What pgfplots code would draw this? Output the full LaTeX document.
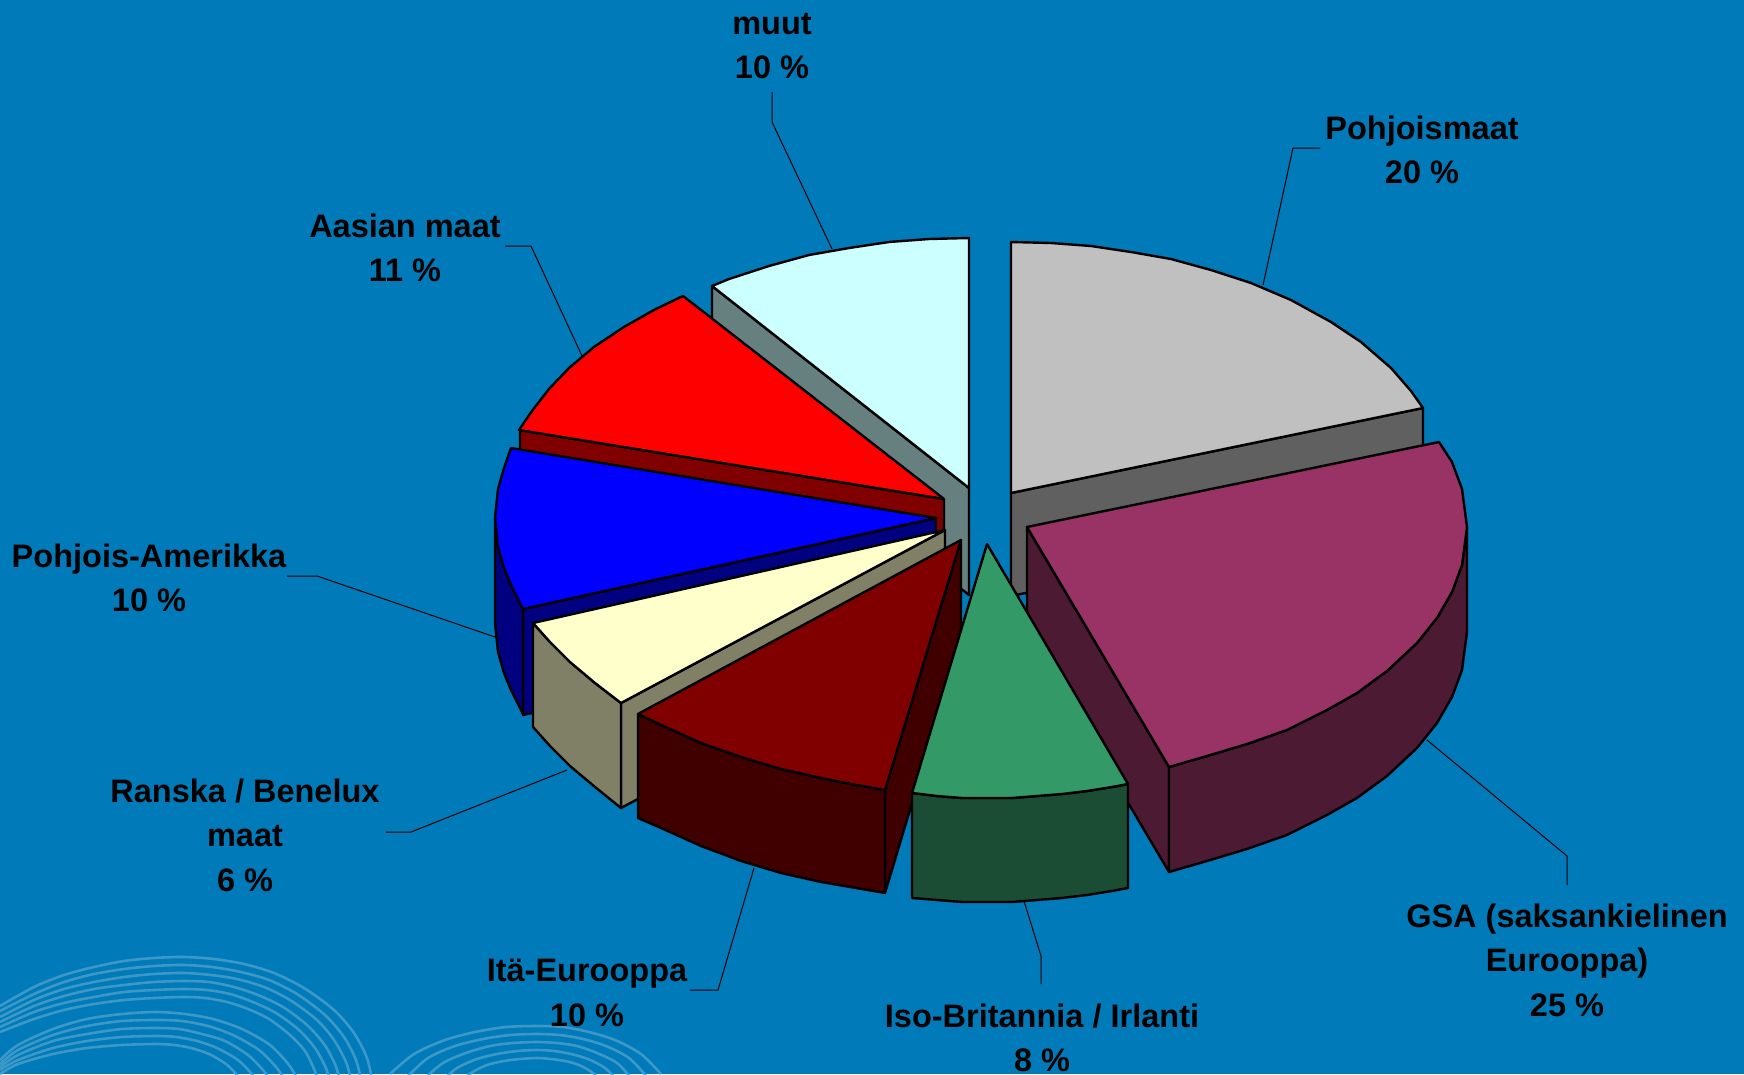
\documentclass[border=0pt]{standalone}
\usepackage{pgfplots}
\pgfplotsset{compat=1.18}
\usepackage{fontspec}
\setmainfont{Liberation Sans}
\definecolor{bgblue}{HTML}{007AB8}
\definecolor{swirl}{HTML}{4AA0CB}
\definecolor{gtop}{HTML}{C0C0C0}\definecolor{gside}{HTML}{606060}
\definecolor{mtop}{HTML}{993366}\definecolor{mside}{HTML}{4D1A33}
\definecolor{ctop}{HTML}{CCFFFF}\definecolor{cside}{HTML}{668080}
\definecolor{rtop}{HTML}{FF0000}\definecolor{rside}{HTML}{800000}
\definecolor{btop}{HTML}{0000FF}\definecolor{bside}{HTML}{000080}
\definecolor{ytop}{HTML}{FFFFCC}\definecolor{yside}{HTML}{808066}
\definecolor{dtop}{HTML}{800000}\definecolor{dside}{HTML}{400000}
\definecolor{etop}{HTML}{339966}\definecolor{eside}{HTML}{1A4D33}
\pgfplotsset{
  slice/.style={draw=black,line width=2.4pt,line join=round,mark=none,fill=#1},
  lead/.style={draw=black,line width=1pt,mark=none},
  sw/.style={draw=swirl,line width=2.6pt,mark=none,smooth,opacity=0.8},
}
\tikzset{lab/.style={font=\fontsize{32.5}{44.5}\selectfont\bfseries,align=center,inner sep=0pt,text=black}}
\begin{document}
\begin{tikzpicture}
\begin{axis}[
  scale only axis,width=1744pt,height=1074pt,
  xmin=0,xmax=1744,ymin=0,ymax=1074,y dir=reverse,
  hide axis,clip=true]
% background
\addplot[fill=bgblue,draw=none,mark=none] coordinates {(0,0)(1744,0)(1744,1074)(0,1074)} -- cycle;
% swirls
\addplot[sw] coordinates {(0,1006)(34,987)(64,975)(94,967)(124,961)(154,958)(184,957)(214,959)(244,964)(274,973)(304,988)(334,1010)(354,1033)(367,1058)(372,1080)};
\addplot[sw] coordinates {(0,1011)(34,994)(64,982)(94,974)(124,969)(154,966)(184,965)(212,967)(241,972)(269,980)(297,994)(325,1015)(344,1037)(356,1060)(361,1080)};
\addplot[sw] coordinates {(0,1017)(34,1000)(64,989)(94,982)(124,977)(154,974)(184,973)(211,975)(237,979)(264,987)(290,1000)(317,1020)(334,1040)(346,1062)(351,1080)};
\addplot[sw] coordinates {(0,1022)(34,1006)(64,996)(94,989)(124,985)(154,982)(184,981)(209,982)(234,987)(258,995)(283,1007)(307,1025)(324,1044)(335,1064)(340,1080)};
\addplot[sw] coordinates {(0,1027)(34,1012)(64,1003)(94,997)(124,992)(154,990)(184,989)(207,990)(230,994)(253,1002)(276,1013)(299,1030)(315,1048)(325,1066)(330,1080)};
\addplot[sw] coordinates {(0,1032)(34,1019)(64,1010)(94,1004)(124,1000)(154,998)(184,997)(205,998)(227,1002)(248,1009)(269,1019)(290,1035)(305,1051)(314,1069)(318,1080)};
\addplot[sw] coordinates {(0,1060)(18,1045)(53,1029)(87,1019)(122,1014)(156,1012)(185,1014)(213,1019)(242,1029)(270,1045)(289,1065)(298,1080)};
\addplot[sw] coordinates {(0,1064)(18,1050)(53,1035)(87,1026)(122,1021)(156,1020)(182,1021)(208,1026)(233,1035)(259,1050)(276,1067)(285,1080)};
\addplot[sw] coordinates {(0,1067)(18,1055)(53,1041)(87,1034)(122,1029)(156,1028)(179,1029)(202,1034)(225,1041)(248,1055)(263,1070)(270,1080)};
\addplot[sw] coordinates {(0,1070)(18,1060)(53,1048)(87,1041)(122,1037)(156,1036)(176,1037)(197,1041)(217,1048)(238,1060)(251,1073)(256,1080)};
\addplot[sw] coordinates {(0,1074)(18,1064)(53,1054)(87,1048)(122,1045)(156,1044)(174,1045)(191,1048)(209,1054)(226,1064)(238,1076)(241,1080)};
\addplot[sw] coordinates {(390,1074)(414,1054)(445,1040)(475,1032)(506,1027)(537,1026)(563,1027)(589,1032)(615,1040)(641,1054)(661,1074)};
\addplot[sw] coordinates {(407,1077)(428,1058)(455,1046)(483,1039)(510,1035)(537,1034)(560,1035)(583,1039)(606,1046)(629,1058)(647,1077)};
\addplot[sw] coordinates {(424,1079)(443,1063)(466,1053)(490,1046)(513,1043)(537,1042)(557,1043)(577,1046)(597,1053)(617,1063)(632,1079)};
\addplot[sw] coordinates {(442,1081)(457,1068)(477,1059)(497,1054)(517,1051)(537,1050)(554,1051)(571,1054)(588,1059)(605,1068)(618,1081)};
\addplot[sw] coordinates {(458,1084)(471,1073)(487,1065)(504,1061)(520,1059)(537,1058)(551,1059)(565,1061)(579,1065)(593,1073)(604,1084)};
% leader lines
\addplot[lead] coordinates {(772,92)(772,122)(832,249)};
\addplot[lead] coordinates {(1320,148)(1293,148)(1263,285)};
\addplot[lead] coordinates {(505,246)(531,246)(583,358)};
\addplot[lead] coordinates {(287,576)(317,576)(495,637)};
\addplot[lead] coordinates {(386,832)(411,832)(567,770)};
\addplot[lead] coordinates {(690,990)(718,990)(754,868)};
\addplot[lead] coordinates {(1024,901)(1041,956)(1041,984)};
\addplot[lead] coordinates {(1427,740)(1567,856)(1567,885)};
% muut
\addplot[slice=cside] coordinates {(712,286)(969,488)(969,595)(712,391)} -- cycle;
\addplot[slice=ctop] coordinates {(969,238)(929,239)(889,242)(849,248)(809,255)(769,266)(729,279)(712,286)(969,488)} -- cycle;
% Pohjoismaat
\addplot[slice=gside] coordinates {(1011,493)(1423,408)(1423,512)(1011,596)} -- cycle;
\addplot[slice=gtop] coordinates {(1011,242)(1051,243)(1091,246)(1131,252)(1171,259)(1211,270)(1251,283)(1291,300)(1331,322)(1361,342)(1391,368)(1411,391)(1423,408)(1011,493)} -- cycle;
% Aasian maat
\addplot[slice=rside] coordinates {(520,430)(944,499)(944,610)(520,535)} -- cycle;
\addplot[slice=rtop] coordinates {(519,430)(532,411)(549,389)(569,368)(594,347)(624,327)(654,310)(683,296)(944,499)} -- cycle;
% Pohjois-Amerikka
\addplot[slice=bside] coordinates {(523,609)(936,518)(936,623)(523,715)} -- cycle;
\addplot[slice=bside] coordinates {(495,518)(498,547)(504,568)(511,585)(523,609)(523,714)(511,690)(504,673)(498,652)(495,623)} -- cycle;
\addplot[slice=btop] coordinates {(511,448)(504,468)(498,489)(495,518)(498,547)(504,568)(511,585)(523,609)(936,518)} -- cycle;
% Ranska / Benelux
\addplot[slice=yside] coordinates {(621,703)(945,530)(945,635)(621,808)} -- cycle;
\addplot[slice=yside] coordinates {(533,623)(550,642)(570,662)(595,683)(621,703)(621,808)(595,787)(570,766)(550,746)(533,727)} -- cycle;
\addplot[slice=ytop] coordinates {(533,623)(550,642)(570,662)(595,683)(621,703)(945,530)} -- cycle;
% Ita-Eurooppa
\addplot[slice=dside] coordinates {(885,790)(961,540)(961,640)(885,893)} -- cycle;
\addplot[slice=dside] coordinates {(638,714)(661,725)(701,743)(741,757)(781,769)(821,778)(856,785)(885,790)(885,893)(856,888)(821,882)(781,873)(741,861)(701,846)(661,828)(638,818)} -- cycle;
\addplot[slice=dtop] coordinates {(638,714)(661,725)(701,743)(741,757)(781,769)(821,778)(856,785)(885,790)(961,540)} -- cycle;
% GSA
\addplot[slice=mside] coordinates {(1027,527)(1169,767)(1169,872)(1027,632)} -- cycle;
\addplot[slice=mside] coordinates {(1467,527)(1462,565)(1452,592)(1437,618)(1417,643)(1387,671)(1357,693)(1327,710)(1287,730)(1247,744)(1207,756)(1169,767)(1169,872)(1207,861)(1247,849)(1287,835)(1327,815)(1357,798)(1387,776)(1417,748)(1437,723)(1452,697)(1462,670)(1467,632)} -- cycle;
\addplot[slice=mtop] coordinates {(1027,527)(1439,442)(1452,462)(1462,489)(1467,527)(1462,565)(1452,592)(1437,618)(1417,643)(1387,671)(1357,693)(1327,710)(1287,730)(1247,744)(1207,756)(1169,767)} -- cycle;
% Iso-Britannia
\addplot[slice=eside] coordinates {(912,793)(937,796)(962,798)(987,798)(1012,798)(1037,796)(1062,794)(1087,791)(1112,787)(1128,784)(1128,888)(1112,891)(1087,895)(1062,898)(1037,900)(1012,902)(987,902)(962,902)(937,900)(912,898)} -- cycle;
\addplot[slice=etop] coordinates {(987,544)(1128,784)(1112,787)(1087,791)(1062,794)(1037,796)(1012,798)(987,798)(962,798)(937,796)(912,793)} -- cycle;
% labels
\node[lab] at (axis cs:772,46) {muut\\10 \%};
\node[lab] at (axis cs:1422,150) {Pohjoismaat\\20 \%};
\node[lab] at (axis cs:405,248) {Aasian maat\\11 \%};
\node[lab] at (axis cs:149,578) {Pohjois-Amerikka\\10 \%};
\node[lab] at (axis cs:245,835) {Ranska / Benelux\\maat\\6 \%};
\node[lab] at (axis cs:587,993) {Itä-Eurooppa\\10 \%};
\node[lab] at (axis cs:1042,1038) {Iso-Britannia / Irlanti\\8 \%};
\node[lab] at (axis cs:1567,960) {GSA (saksankielinen\\Eurooppa)\\25 \%};
\end{axis}
\end{tikzpicture}
\end{document}
